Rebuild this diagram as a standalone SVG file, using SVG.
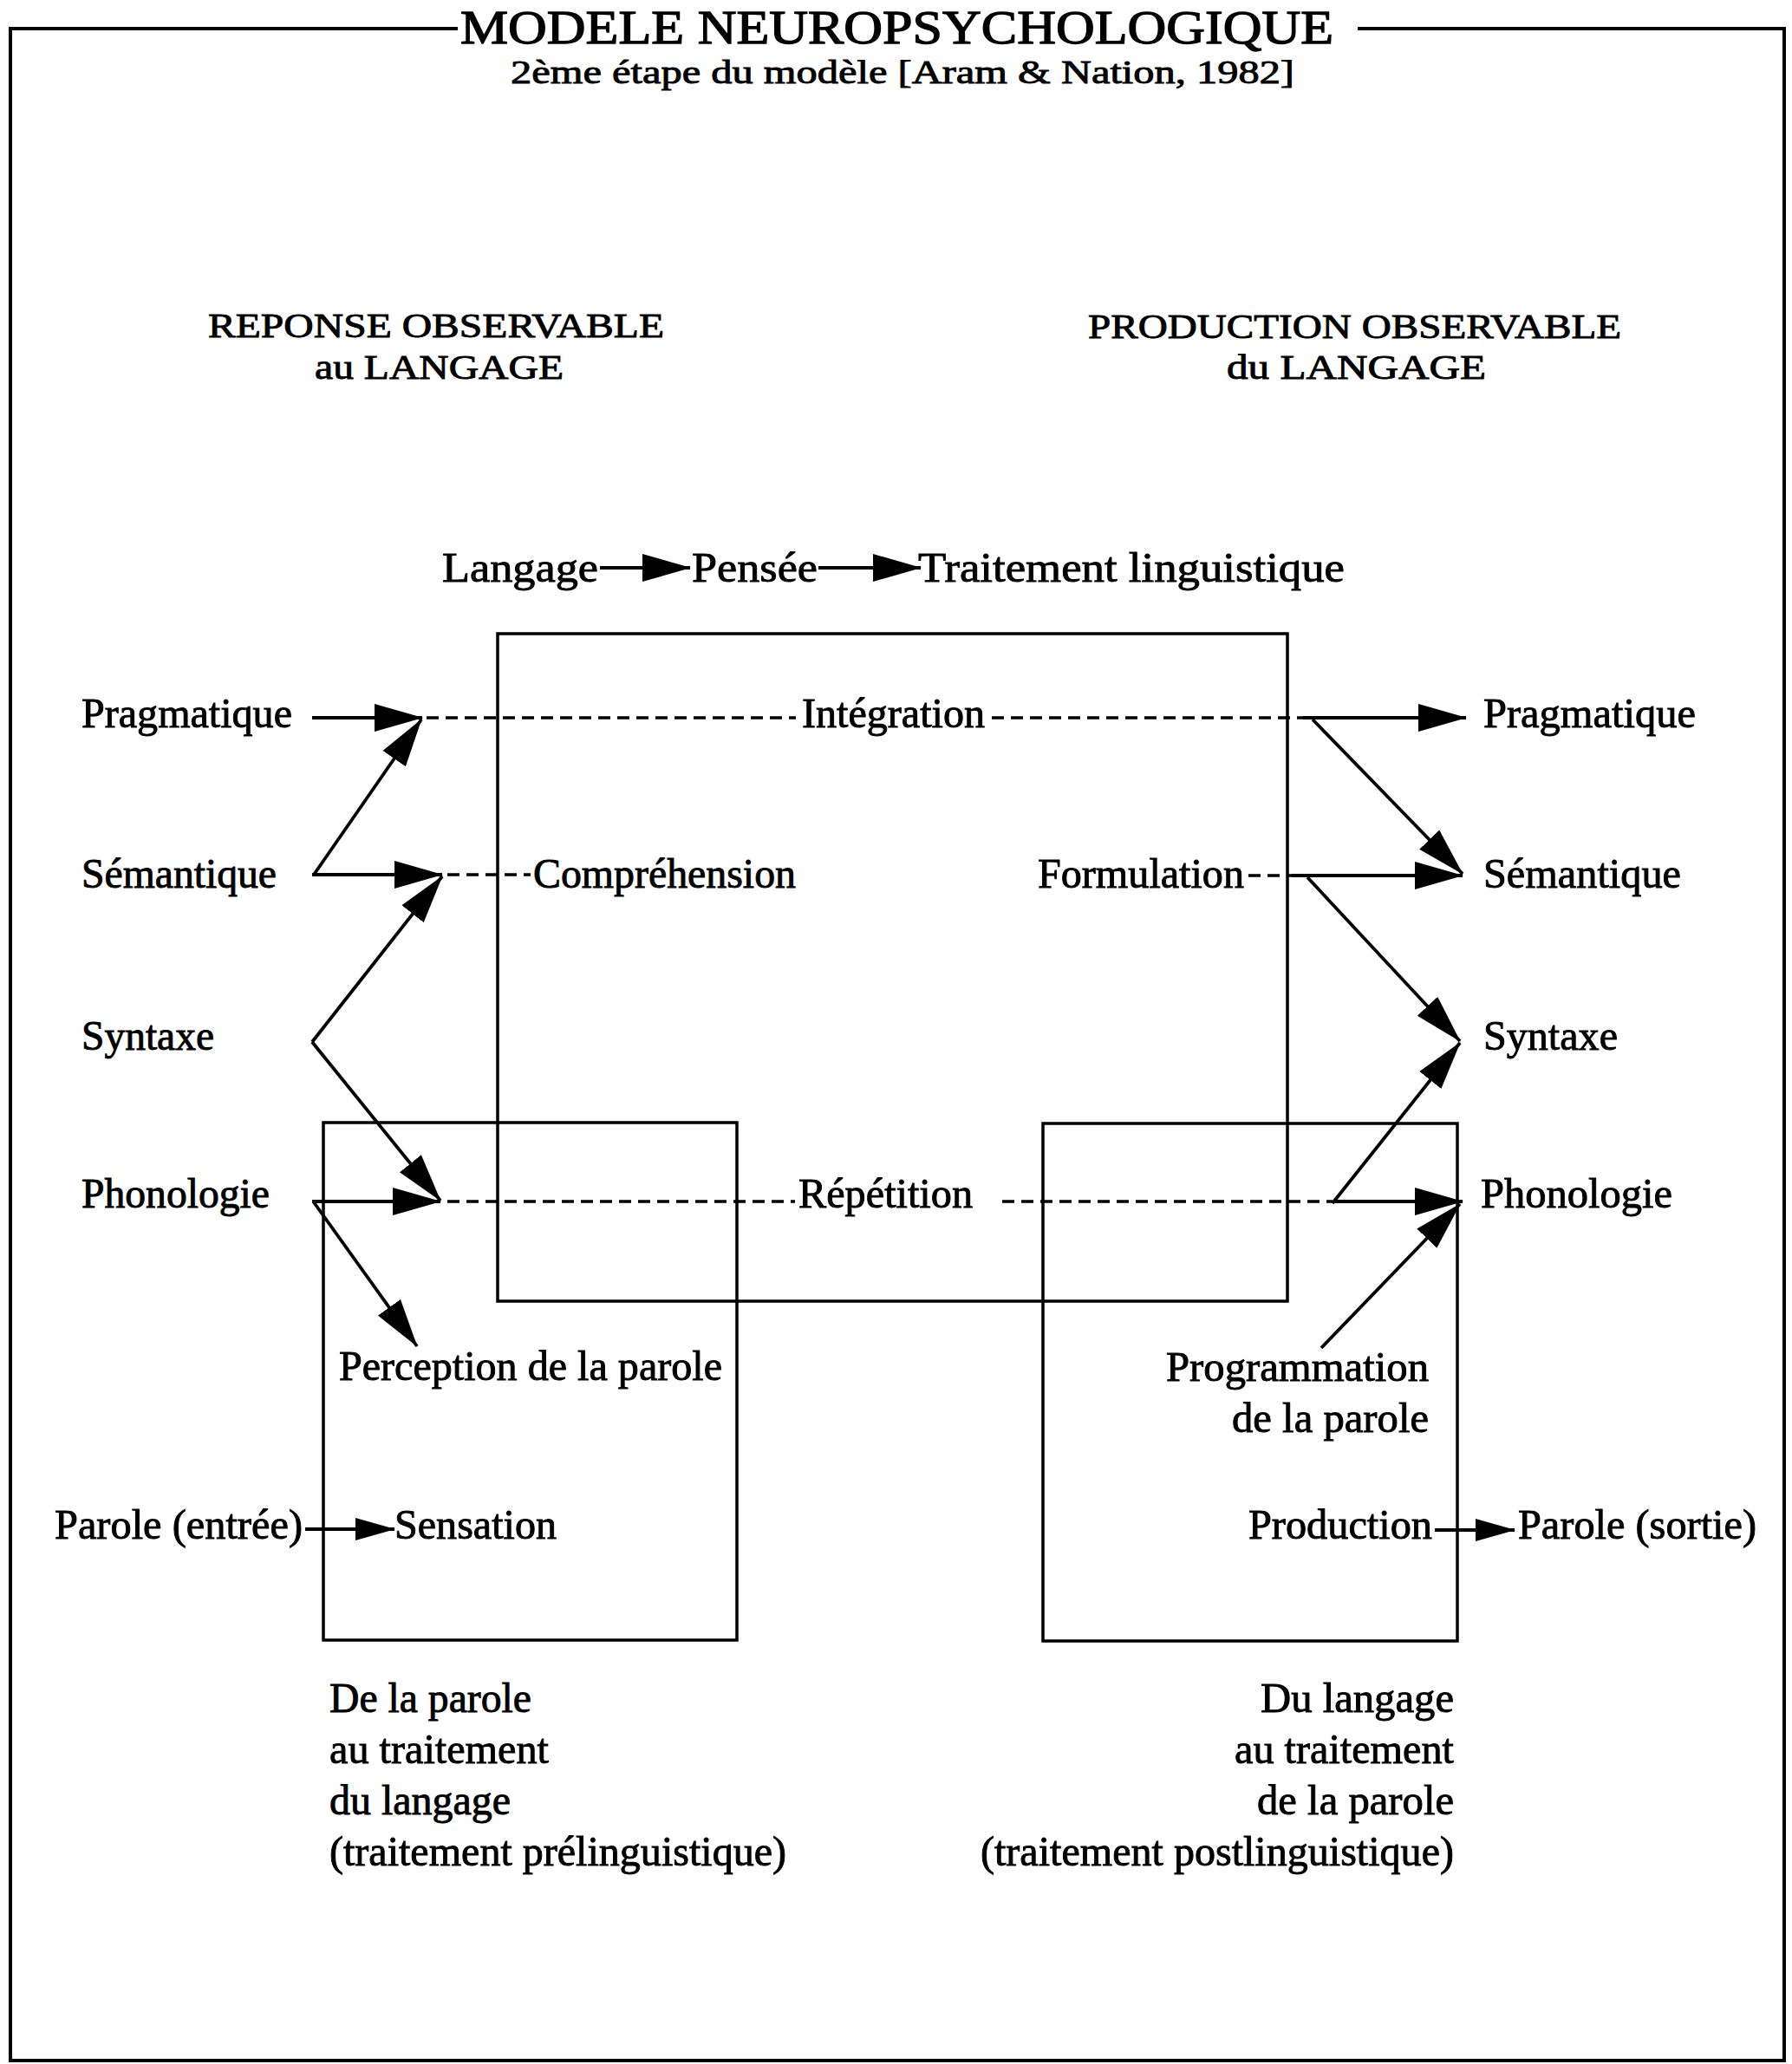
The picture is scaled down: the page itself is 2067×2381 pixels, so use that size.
<svg xmlns="http://www.w3.org/2000/svg" width="2067" height="2381" viewBox="0 0 2067 2381">
<style>
text{font-family:"Liberation Serif","Times New Roman",serif;fill:#000;stroke:#000;stroke-width:0.9}
.b{font-size:48px}
.h{font-size:40px}
.t{font-size:54px;stroke-width:1.3}
.st{font-size:38px}
.box{fill:none;stroke:#000;stroke-width:3.5}
.ln{fill:none;stroke:#000;stroke-width:3.8}
.ds{fill:none;stroke:#000;stroke-width:3.5;stroke-dasharray:14 8}
.fr{fill:none;stroke:#000;stroke-width:4}
</style>
<defs>
<marker id="arr" viewBox="0 0 56 34" refX="55" refY="17" markerWidth="56" markerHeight="34" markerUnits="userSpaceOnUse" orient="auto">
<path d="M0,1 L56,17 L0,33 Z" fill="#000"/>
</marker>
<marker id="arrS" viewBox="0 0 46 28" refX="45" refY="14" markerWidth="46" markerHeight="28" markerUnits="userSpaceOnUse" orient="auto">
<path d="M0,1 L46,14 L0,27 Z" fill="#000"/>
</marker>
</defs>
<rect width="2067" height="2381" fill="#fff"/>
<g id="frame">
<path class="fr" d="M528,33 H12 V2377 H2058 V33 H1566"/>
</g>
<g id="title">
<text class="t" x="531" y="50" textLength="1007" lengthAdjust="spacingAndGlyphs">MODELE NEUROPSYCHOLOGIQUE</text>
<text class="st" x="589" y="96" textLength="904" lengthAdjust="spacingAndGlyphs">2ème étape du modèle [Aram &amp; Nation, 1982]</text>
</g>
<g id="head-left">
<text class="h" x="240" y="389" textLength="526" lengthAdjust="spacingAndGlyphs">REPONSE OBSERVABLE</text>
<text class="h" x="363" y="437" textLength="287" lengthAdjust="spacingAndGlyphs">au LANGAGE</text>
</g>
<g id="head-right">
<text class="h" x="1255" y="390" textLength="615" lengthAdjust="spacingAndGlyphs">PRODUCTION OBSERVABLE</text>
<text class="h" x="1415" y="437" textLength="299" lengthAdjust="spacingAndGlyphs">du LANGAGE</text>
</g>
<g id="box-center"><rect class="box" x="574" y="731" width="911" height="770"/></g>
<g id="box-left"><rect class="box" x="373" y="1295" width="477" height="597"/></g>
<g id="box-right"><rect class="box" x="1203" y="1296" width="478" height="597"/></g>
<g id="n-langage"><text class="b" x="510" y="671" textLength="180" lengthAdjust="spacingAndGlyphs">Langage</text></g>
<g id="n-pensee"><text class="b" x="798" y="671" textLength="145" lengthAdjust="spacingAndGlyphs">Pensée</text></g>
<g id="n-traitement"><text class="b" x="1059" y="671" textLength="492" lengthAdjust="spacingAndGlyphs">Traitement linguistique</text></g>
<g id="n-pragmatique-l"><text class="b" x="94" y="839" textLength="243" lengthAdjust="spacingAndGlyphs">Pragmatique</text></g>
<g id="n-semantique-l"><text class="b" x="94" y="1024" textLength="225" lengthAdjust="spacingAndGlyphs">Sémantique</text></g>
<g id="n-syntaxe-l"><text class="b" x="94" y="1211" textLength="153" lengthAdjust="spacingAndGlyphs">Syntaxe</text></g>
<g id="n-phonologie-l"><text class="b" x="94" y="1393" textLength="217" lengthAdjust="spacingAndGlyphs">Phonologie</text></g>
<g id="n-integration"><text class="b" x="925" y="839" textLength="211" lengthAdjust="spacingAndGlyphs">Intégration</text></g>
<g id="n-comprehension"><text class="b" x="615" y="1024" textLength="303" lengthAdjust="spacingAndGlyphs">Compréhension</text></g>
<g id="n-formulation"><text class="b" x="1197" y="1024" textLength="238" lengthAdjust="spacingAndGlyphs">Formulation</text></g>
<g id="n-repetition"><text class="b" x="921" y="1393" textLength="201" lengthAdjust="spacingAndGlyphs">Répétition</text></g>
<g id="n-pragmatique-r"><text class="b" x="1711" y="839" textLength="245" lengthAdjust="spacingAndGlyphs">Pragmatique</text></g>
<g id="n-semantique-r"><text class="b" x="1711" y="1024" textLength="228" lengthAdjust="spacingAndGlyphs">Sémantique</text></g>
<g id="n-syntaxe-r"><text class="b" x="1711" y="1211" textLength="155" lengthAdjust="spacingAndGlyphs">Syntaxe</text></g>
<g id="n-phonologie-r"><text class="b" x="1708" y="1393" textLength="221" lengthAdjust="spacingAndGlyphs">Phonologie</text></g>
<g id="n-perception"><text class="b" x="391" y="1592" textLength="442" lengthAdjust="spacingAndGlyphs">Perception de la parole</text></g>
<g id="n-programmation">
<text class="b" x="1345" y="1593" textLength="303" lengthAdjust="spacingAndGlyphs">Programmation</text>
<text class="b" x="1421" y="1652" textLength="227" lengthAdjust="spacingAndGlyphs">de la parole</text>
</g>
<g id="n-parole-entree"><text class="b" x="63" y="1775" textLength="286" lengthAdjust="spacingAndGlyphs">Parole (entrée)</text></g>
<g id="n-sensation"><text class="b" x="455" y="1775" textLength="187" lengthAdjust="spacingAndGlyphs">Sensation</text></g>
<g id="n-production"><text class="b" x="1440" y="1775" textLength="212" lengthAdjust="spacingAndGlyphs">Production</text></g>
<g id="n-parole-sortie"><text class="b" x="1751" y="1775" textLength="275" lengthAdjust="spacingAndGlyphs">Parole (sortie)</text></g>
<g id="caption-left">
<text class="b" x="380" y="1975" textLength="233" lengthAdjust="spacingAndGlyphs">De la parole</text>
<text class="b" x="380" y="2034" textLength="253" lengthAdjust="spacingAndGlyphs">au traitement</text>
<text class="b" x="380" y="2093" textLength="209" lengthAdjust="spacingAndGlyphs">du langage</text>
<text class="b" x="380" y="2152" textLength="527" lengthAdjust="spacingAndGlyphs">(traitement prélinguistique)</text>
</g>
<g id="caption-right">
<text class="b" x="1454" y="1975" textLength="223" lengthAdjust="spacingAndGlyphs">Du langage</text>
<text class="b" x="1424" y="2034" textLength="253" lengthAdjust="spacingAndGlyphs">au traitement</text>
<text class="b" x="1450" y="2093" textLength="227" lengthAdjust="spacingAndGlyphs">de la parole</text>
<text class="b" x="1131" y="2152" textLength="546" lengthAdjust="spacingAndGlyphs">(traitement postlinguistique)</text>
</g>
<g id="connectors">
<line class="ln" x1="692" y1="655" x2="796" y2="655" marker-end="url(#arr)"/>
<line class="ln" x1="944" y1="655" x2="1062" y2="655" marker-end="url(#arr)"/>
<line class="ln" x1="360" y1="828" x2="487" y2="828" marker-end="url(#arr)"/>
<line class="ln" x1="362" y1="1009" x2="486" y2="830" marker-end="url(#arr)"/>
<line class="ln" x1="360" y1="1009" x2="510" y2="1009" marker-end="url(#arr)"/>
<line class="ln" x1="360" y1="1202" x2="510" y2="1011" marker-end="url(#arr)"/>
<line class="ln" x1="360" y1="1202" x2="508" y2="1385" marker-end="url(#arr)"/>
<line class="ln" x1="360" y1="1386" x2="508" y2="1386" marker-end="url(#arr)"/>
<line class="ln" x1="362" y1="1387" x2="481" y2="1553" marker-end="url(#arr)"/>
<line class="ds" x1="492" y1="828" x2="918" y2="828"/>
<line class="ds" x1="1144" y1="828" x2="1503" y2="828"/>
<line class="ln" x1="1503" y1="828" x2="1691" y2="828" marker-end="url(#arr)"/>
<line class="ln" x1="1514" y1="830" x2="1687" y2="1008" marker-end="url(#arr)"/>
<line class="ds" x1="516" y1="1009" x2="612" y2="1009"/>
<line class="ds" x1="1440" y1="1010" x2="1490" y2="1010"/>
<line class="ln" x1="1490" y1="1010" x2="1687" y2="1010" marker-end="url(#arr)"/>
<line class="ln" x1="1508" y1="1012" x2="1684" y2="1201" marker-end="url(#arr)"/>
<line class="ds" x1="516" y1="1386" x2="917" y2="1386"/>
<line class="ds" x1="1156" y1="1386" x2="1537" y2="1386"/>
<line class="ln" x1="1540" y1="1386" x2="1687" y2="1386" marker-end="url(#arr)"/>
<line class="ln" x1="1537" y1="1388" x2="1684" y2="1203" marker-end="url(#arr)"/>
<line class="ln" x1="1524" y1="1555" x2="1684" y2="1389" marker-end="url(#arr)"/>
<line class="ln" x1="352" y1="1764" x2="455" y2="1764" marker-end="url(#arrS)"/>
<line class="ln" x1="1655" y1="1765" x2="1747" y2="1765" marker-end="url(#arrS)"/>
</g>
</svg>
